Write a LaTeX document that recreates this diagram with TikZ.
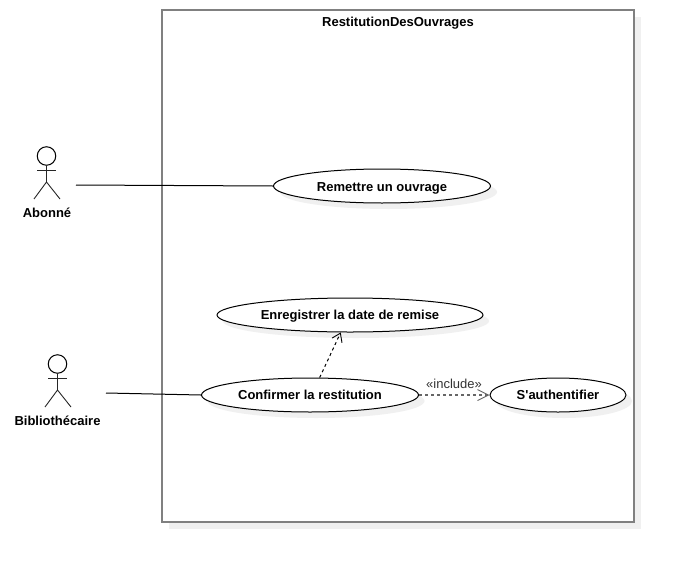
\documentclass[tikz,border=0pt]{standalone}
\usepackage{fontspec}
\setmainfont{Liberation Sans}
\newfontfamily\plainf{Liberation Sans}
\usetikzlibrary{shapes.geometric,arrows.meta}
\definecolor{shadowc}{HTML}{F0F0F0}
\definecolor{boxc}{HTML}{808080}
\tikzset{
  usecase/.style={ellipse,draw=black,fill=white,line width=1pt,inner sep=0pt,minimum height=34pt,font=\bfseries\fontsize{13}{15}\selectfont},
  ushadow/.style={fill=shadowc,draw=none},
  actorline/.style={line width=0.9pt,black!85},
  assoc/.style={line width=1pt,black},
  dep/.style={line width=1pt,black,dash pattern=on 3pt off 3pt,-{Straight Barb[length=8pt,width=11pt,line width=0.9pt]}},
  depinc/.style={line width=1.4pt,black!60,dash pattern=on 3pt off 3pt,-{Straight Barb[length=11pt,width=11pt,line width=0.9pt]}},
  lbl/.style={font=\bfseries\fontsize{13}{15}\selectfont,inner sep=0pt},
  casetext/.style={font=\plainf\bfseries\fontsize{13}{15}\selectfont,inner sep=0pt,anchor=base},
  stereo/.style={font=\fontsize{13}{15}\selectfont,text=black!80,inner sep=0pt}
}
\begin{document}
\begin{tikzpicture}[x=1pt,y=-1pt]
\useasboundingbox (0,0) rectangle (674,562);
% system boundary
\fill[shadowc] (169,17) rectangle (641,529);
\node[draw=boxc,fill=white,line width=2pt,minimum width=472pt,minimum height=512pt,inner sep=0pt] (sys) at (398,266) {};
\node[lbl] (title) at (398,23) {RestitutionDesOuvrages};
% use case shadows
\fill[ushadow] (388.5,192) ellipse [x radius=108.5pt,y radius=17pt];
\fill[ushadow] (356,321) ellipse [x radius=133pt,y radius=17pt];
\fill[ushadow] (316,401) ellipse [x radius=108.5pt,y radius=17pt];
\fill[ushadow] (564,401) ellipse [x radius=68pt,y radius=17pt];
% use cases
\node[usecase,minimum width=217pt] (rem) at (382,186) {};
\node[usecase,minimum width=266pt] (enr) at (350,315) {};
\node[usecase,minimum width=217pt] (conf) at (310,395) {};
\node[usecase,minimum width=136pt] (auth) at (558,395) {};
\node[casetext] (remt) at (382,191) {Remettre un ouvrage};
\node[casetext] (enrt) at (350,319) {Enregistrer la date de remise};
\node[casetext] (conft) at (310,399) {Confirmer la restitution};
\node[casetext] (autht) at (558,399) {S'authentifier};
% actors
\node[circle,draw=black,fill=white,line width=1pt,minimum size=18.5pt,inner sep=0pt] (headA) at (46.5,156) {};
\coordinate (hipA) at (46.5,182);
\draw[actorline] (headA.south) -- (hipA);
\coordinate (armAl) at (37,170.5);
\coordinate (armAr) at (56,170.5);
\coordinate (legAl) at (34,199);
\coordinate (legAr) at (60,199);
\draw[actorline] (armAl) -- (armAr);
\draw[actorline] (legAl) -- (hipA) -- (legAr);
\node[lbl] (abo) at (47,212.5) {Abonné};
\node[circle,draw=black,fill=white,line width=1pt,minimum size=18.5pt,inner sep=0pt] (headB) at (57.5,364) {};
\coordinate (hipB) at (57.5,390);
\draw[actorline] (headB.south) -- (hipB);
\coordinate (armBl) at (48,378.5);
\coordinate (armBr) at (67,378.5);
\coordinate (legBl) at (45,407);
\coordinate (legBr) at (71,407);
\draw[actorline] (armBl) -- (armBr);
\draw[actorline] (legBl) -- (hipB) -- (legBr);
\node[lbl] (bib) at (57.5,420.5) {Bibliothécaire};
% connectors
\coordinate (aboEnd) at (76,185);
\coordinate (bibEnd) at (106,393);
\draw[assoc] (aboEnd) -- (rem.west);
\draw[assoc] (bibEnd) -- (conf.west);
\draw[dep] (conf.61) -- (enr.242);
\draw[depinc] (conf.east) -- (auth.west);
\node[stereo] (incl) at (454,383.5) {«include»};
\end{tikzpicture}
\end{document}
